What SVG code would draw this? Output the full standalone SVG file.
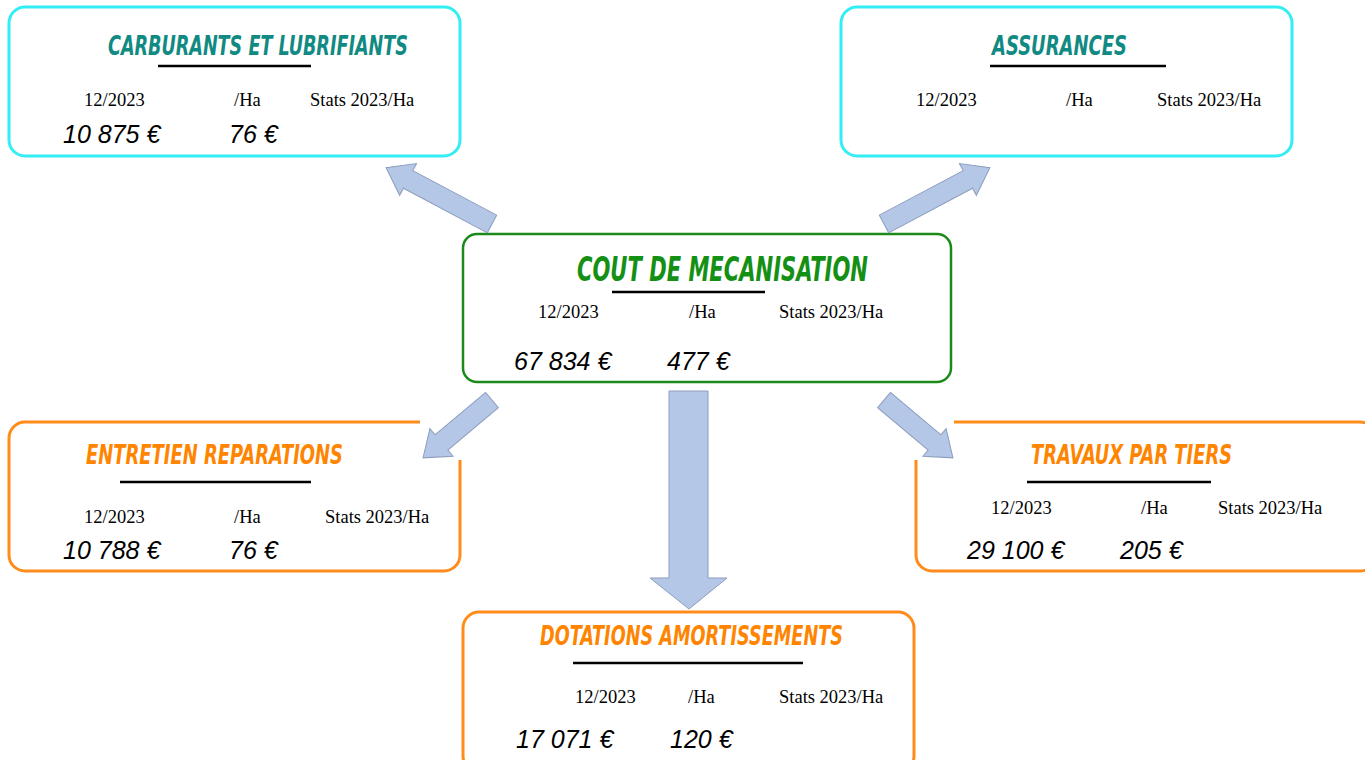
<svg xmlns="http://www.w3.org/2000/svg" width="1365" height="760" viewBox="0 0 1365 760">
<style>
.box{fill:#fff;stroke-width:3}
.cyan{stroke:#33eef5}
.green{stroke:#1b8a1b;stroke-width:2.5}
.orange{stroke:#ff8c1a}
.title{font-family:'Liberation Sans Narrow','DejaVu Sans Condensed','Liberation Sans',sans-serif;font-style:italic;font-weight:bold;font-size:26px}
.t-teal{fill:#108a82}
.t-green{fill:#149014}
.t-orange{fill:#ff8400}
.ul{stroke:#000;stroke-width:2.5}
.lbl{font-family:'Liberation Serif','Times New Roman',serif;font-size:18.5px;fill:#000}
.val{font-family:'Liberation Sans',Arial,sans-serif;font-style:italic;font-size:25px;fill:#000}
.arrow{fill:#b4c7e7;stroke:#8d9dbd;stroke-width:1}
</style>
<rect width="1365" height="760" fill="#fff"/>

<g id="carburants">
<rect class="box cyan" x="9" y="7" width="451" height="149" rx="16"/>
<text class="title t-teal" x="108" y="55" textLength="300" lengthAdjust="spacingAndGlyphs">CARBURANTS ET LUBRIFIANTS</text>
<line class="ul" x1="158" y1="66" x2="311" y2="66"/>
<text class="lbl" x="84" y="106">12/2023</text>
<text class="lbl" x="234" y="106">/Ha</text>
<text class="lbl" x="310" y="106">Stats 2023/Ha</text>
<text class="val" x="63" y="143">10 875 €</text>
<text class="val" x="229" y="143">76 €</text>
</g>

<g id="assurances">
<rect class="box cyan" x="841" y="7" width="451" height="149" rx="16"/>
<text class="title t-teal" x="992" y="55" textLength="135" lengthAdjust="spacingAndGlyphs">ASSURANCES</text>
<line class="ul" x1="990" y1="66" x2="1166" y2="66"/>
<text class="lbl" x="916" y="106">12/2023</text>
<text class="lbl" x="1066" y="106">/Ha</text>
<text class="lbl" x="1157" y="106">Stats 2023/Ha</text>
</g>

<g id="cout">
<rect class="box green" x="463" y="234" width="488" height="148" rx="14"/>
<text class="title t-green" x="577" y="281" style="font-size:34px" textLength="291" lengthAdjust="spacingAndGlyphs">COUT DE MECANISATION</text>
<line class="ul" x1="612" y1="292" x2="765" y2="292"/>
<text class="lbl" x="538" y="318">12/2023</text>
<text class="lbl" x="689" y="318">/Ha</text>
<text class="lbl" x="779" y="318">Stats 2023/Ha</text>
<text class="val" x="514" y="370">67 834 €</text>
<text class="val" x="667" y="370">477 €</text>
</g>

<g id="entretien">
<rect class="box orange" x="9" y="422" width="451" height="149" rx="16"/>
<text class="title t-orange" x="86" y="464" textLength="257" lengthAdjust="spacingAndGlyphs">ENTRETIEN REPARATIONS</text>
<line class="ul" x1="120" y1="482" x2="311" y2="482"/>
<text class="lbl" x="84" y="523">12/2023</text>
<text class="lbl" x="234" y="523">/Ha</text>
<text class="lbl" x="325" y="523">Stats 2023/Ha</text>
<text class="val" x="63" y="559">10 788 €</text>
<text class="val" x="229" y="559">76 €</text>
</g>

<g id="travaux">
<rect class="box orange" x="916" y="422" width="460" height="149" rx="16"/>
<text class="title t-orange" x="1031" y="464" textLength="201" lengthAdjust="spacingAndGlyphs">TRAVAUX PAR TIERS</text>
<line class="ul" x1="1027" y1="482" x2="1211" y2="482"/>
<text class="lbl" x="991" y="514">12/2023</text>
<text class="lbl" x="1141" y="514">/Ha</text>
<text class="lbl" x="1218" y="514">Stats 2023/Ha</text>
<text class="val" x="967" y="559">29 100 €</text>
<text class="val" x="1120" y="559">205 €</text>
</g>

<g id="dotations">
<rect class="box orange" x="463" y="612" width="451" height="160" rx="16"/>
<text class="title t-orange" x="540" y="645" textLength="303" lengthAdjust="spacingAndGlyphs">DOTATIONS AMORTISSEMENTS</text>
<line class="ul" x1="573" y1="663" x2="803" y2="663"/>
<text class="lbl" x="575" y="703">12/2023</text>
<text class="lbl" x="688" y="703">/Ha</text>
<text class="lbl" x="779" y="703">Stats 2023/Ha</text>
<text class="val" x="516" y="748">17 071 €</text>
<text class="val" x="670" y="748">120 €</text>
</g>

<g id="connectors">
<rect x="420" y="390" width="52" height="70" fill="#fff"/>
<rect x="868" y="390" width="86" height="70" fill="#fff"/>
<polygon class="arrow" transform="translate(492,224) rotate(208)" points="0,-10 95,-10 95,-18 120,0 95,18 95,10 0,10"/>
<polygon class="arrow" transform="translate(884,224) rotate(-28)" points="0,-10 95,-10 95,-18 120,0 95,18 95,10 0,10"/>
<polygon class="arrow" transform="translate(492,400) rotate(140)" points="0,-10 66,-10 66,-18 90,0 66,18 66,10 0,10"/>
<polygon class="arrow" transform="translate(884,400) rotate(40)" points="0,-10 66,-10 66,-18 90,0 66,18 66,10 0,10"/>
<polygon class="arrow" points="669,391 708,391 708,578 727,578 689,609 650,578 669,578"/>
</g>
</svg>
